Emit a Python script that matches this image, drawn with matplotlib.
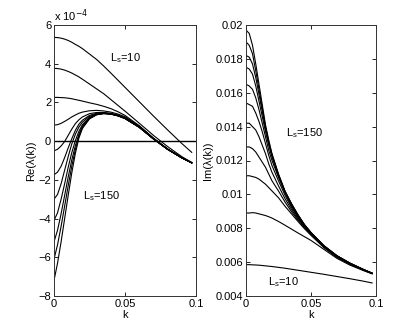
import numpy as np
import matplotlib
matplotlib.use("Agg")
import matplotlib.pyplot as plt

# common k grid
k = [0, 0.0025, 0.005, 0.0075, 0.01, 0.0125, 0.015, 0.0175, 0.02, 0.025,
     0.03, 0.035, 0.04, 0.045, 0.05, 0.06, 0.07, 0.08, 0.09, 0.097]

# Re(lambda(k)) in units of 1e-4, from Ls=10 (top) to Ls=150 (bottom)
re_ls10 = [5.36, 5.35, 5.32, 5.27, 5.20, 5.11, 5.00, 4.90, 4.78, 4.50, 4.22, 3.88, 3.52, 3.15, 2.78, 2.04, 1.30, 0.58, -0.12, -0.58]
re_c2 = [3.76, 3.75, 3.72, 3.67, 3.60, 3.52, 3.42, 3.32, 3.20, 2.95, 2.70, 2.45, 2.15, 1.85, 1.55, 0.93, 0.30, -0.28, -0.80, -1.10]
re_c3 = [2.26, 2.26, 2.25, 2.24, 2.22, 2.19, 2.15, 2.11, 2.07, 1.98, 1.90, 1.80, 1.68, 1.52, 1.33, 0.80, 0.16, -0.40, -0.86, -1.12]
re_c4 = [0.83, 0.85, 0.92, 1.02, 1.13, 1.25, 1.35, 1.44, 1.50, 1.57, 1.59, 1.56, 1.50, 1.40, 1.26, 0.78, 0.15, -0.41, -0.86, -1.12]
re_c5 = [-0.50, -0.42, -0.25, -0.02, 0.30, 0.62, 0.90, 1.10, 1.25, 1.42, 1.48, 1.48, 1.44, 1.35, 1.21, 0.75, 0.13, -0.42, -0.86, -1.12]
re_c6 = [-1.74, -1.60, -1.30, -0.85, -0.35, 0.12, 0.55, 0.87, 1.08, 1.33, 1.44, 1.46, 1.42, 1.33, 1.19, 0.73, 0.12, -0.42, -0.86, -1.12]
re_c7 = [-3.00, -2.75, -2.20, -1.50, -0.80, -0.15, 0.35, 0.72, 0.98, 1.28, 1.41, 1.44, 1.41, 1.32, 1.18, 0.72, 0.12, -0.42, -0.86, -1.12]
re_c8 = [-4.10, -3.70, -3.00, -2.20, -1.35, -0.60, 0.02, 0.50, 0.85, 1.23, 1.39, 1.44, 1.40, 1.31, 1.17, 0.72, 0.12, -0.42, -0.86, -1.12]
re_c9 = [-5.20, -4.60, -3.75, -2.80, -1.85, -0.98, -0.25, 0.35, 0.78, 1.20, 1.38, 1.43, 1.40, 1.31, 1.17, 0.72, 0.12, -0.42, -0.86, -1.12]
re_c10 = [-6.10, -5.35, -4.40, -3.35, -2.30, -1.30, -0.45, 0.25, 0.72, 1.17, 1.37, 1.43, 1.40, 1.31, 1.17, 0.72, 0.12, -0.42, -0.86, -1.12]
re_ls150 = [-7.20, -6.30, -5.20, -4.00, -2.80, -1.65, -0.65, 0.15, 0.65, 1.15, 1.36, 1.42, 1.40, 1.31, 1.17, 0.72, 0.12, -0.42, -0.86, -1.12]
re_curves = [re_ls10, re_c2, re_c3, re_c4, re_c5, re_c6, re_c7, re_c8, re_c9, re_c10, re_ls150]

# Im(lambda(k)), from Ls=10 (bottom) to Ls=150 (top)
im_ls10 = [0.00585, 0.00585, 0.00584, 0.00583, 0.00582, 0.00580, 0.00578, 0.00576, 0.00574, 0.00569, 0.00564, 0.00558, 0.00552, 0.00546, 0.00540, 0.00528, 0.00515, 0.00502, 0.00488, 0.00477]
im_c2 = [0.0089, 0.0089, 0.00892, 0.0089, 0.00885, 0.0088, 0.00875, 0.00868, 0.0086, 0.0084, 0.00818, 0.00795, 0.00772, 0.0075, 0.00728, 0.00675, 0.00622, 0.00582, 0.00551, 0.00531]
im_c3 = [0.0111, 0.0111, 0.01105, 0.0110, 0.0109, 0.01075, 0.0106, 0.0104, 0.0102, 0.0098, 0.0093, 0.00885, 0.00840, 0.00797, 0.00758, 0.00685, 0.00628, 0.00588, 0.00554, 0.00532]
im_c4 = [0.0128, 0.0128, 0.0127, 0.0125, 0.0122, 0.0119, 0.0116, 0.0112, 0.0108, 0.0102, 0.00955, 0.00898, 0.00848, 0.00803, 0.00763, 0.00688, 0.00630, 0.00589, 0.00555, 0.00533]
im_c5 = [0.0142, 0.0142, 0.0140, 0.0138, 0.0134, 0.0129, 0.0124, 0.0118, 0.0113, 0.0105, 0.00975, 0.00910, 0.00856, 0.00808, 0.00767, 0.00690, 0.00632, 0.00590, 0.00556, 0.00533]
im_c6 = [0.0154, 0.0153, 0.0152, 0.0148, 0.0143, 0.0137, 0.0130, 0.0123, 0.0117, 0.0108, 0.00995, 0.00922, 0.00863, 0.00812, 0.00769, 0.00692, 0.00634, 0.00591, 0.00556, 0.00534]
im_c7 = [0.0165, 0.0164, 0.0162, 0.0157, 0.0150, 0.0142, 0.0134, 0.0126, 0.0120, 0.0110, 0.0101, 0.00932, 0.00869, 0.00815, 0.00771, 0.00694, 0.00635, 0.00592, 0.00557, 0.00534]
im_c8 = [0.0175, 0.0174, 0.0171, 0.0164, 0.0155, 0.0146, 0.0137, 0.0129, 0.0122, 0.01108, 0.01013, 0.00938, 0.00873, 0.00818, 0.00772, 0.00695, 0.00636, 0.00593, 0.00557, 0.00534]
im_c9 = [0.0182, 0.0181, 0.0177, 0.0169, 0.0159, 0.0149, 0.0139, 0.0130, 0.0123, 0.01113, 0.01016, 0.00942, 0.00876, 0.00819, 0.00773, 0.00696, 0.00637, 0.00593, 0.00557, 0.00535]
im_c10 = [0.0190, 0.0188, 0.0183, 0.0173, 0.0162, 0.0151, 0.0140, 0.0131, 0.01235, 0.01117, 0.01018, 0.00944, 0.00878, 0.00820, 0.00774, 0.00696, 0.00637, 0.00594, 0.00558, 0.00535]
im_ls150 = [0.0197, 0.0195, 0.0188, 0.0177, 0.0165, 0.0153, 0.0141, 0.0132, 0.0124, 0.0112, 0.0102, 0.00945, 0.0088, 0.00822, 0.00775, 0.00697, 0.00638, 0.00594, 0.00558, 0.00535]
im_curves = [im_ls10, im_c2, im_c3, im_c4, im_c5, im_c6, im_c7, im_c8, im_c9, im_c10, im_ls150]

re_yticks = [-8, -6, -4, -2, 0, 2, 4, 6]
im_yticks = [0.004, 0.006, 0.008, 0.01, 0.012, 0.014, 0.016, 0.018, 0.02]
im_yticklabels = ["0.004", "0.006", "0.008", "0.01", "0.012", "0.014", "0.016", "0.018", "0.02"]
xticks = [0, 0.05, 0.1]
xticklabels = ["0", "0.05", "0.1"]

FS = 8
plt.rcParams['font.family'] = ['Liberation Sans', 'DejaVu Sans']
fig = plt.figure(figsize=(4.15, 3.33), dpi=100)
ax1 = fig.add_axes([54/415, 37/333, 142/415, 271/333])
ax2 = fig.add_axes([246/415, 37/333, 130/415, 271/333])

for ax in (ax1, ax2):
    ax.tick_params(direction='in', top=True, right=True, labelsize=FS, length=3, width=0.6, pad=2)
    for s in ax.spines.values():
        s.set_linewidth(0.7)
        s.set_color('#333333')
    ax.set_xlim(0, 0.1)
    ax.set_xticks(xticks)
    ax.set_xticklabels(xticklabels)
    ax.set_xlabel('k', fontsize=FS, labelpad=1)

for c in re_curves:
    ax1.plot(k, c, color='black', lw=0.8)
ax1.axhline(0, color='black', lw=1.0)
ax1.set_ylim(-8, 6)
ax1.set_yticks(re_yticks)
ax1.set_ylabel('Re(λ(k))', fontsize=FS, labelpad=2)
ax1.text(0.0, 1.005, 'x 10$^{-4}$', transform=ax1.transAxes, fontsize=FS, ha='left', va='bottom')
ax1.text(0.0395, 4.3, 'L$_\\mathregular{s}$=10', fontsize=FS, ha='left', va='center')
ax1.text(0.0205, -2.85, 'L$_\\mathregular{s}$=150', fontsize=FS, ha='left', va='center')

for c in im_curves:
    ax2.plot(k, c, color='black', lw=0.8)
ax2.set_ylim(0.004, 0.02)
ax2.set_yticks(im_yticks)
ax2.set_yticklabels(im_yticklabels)
ax2.set_ylabel('Im(λ(k))', fontsize=FS, labelpad=2)
ax2.text(0.031, 0.0136, 'L$_\\mathregular{s}$=150', fontsize=FS, ha='left', va='center')
ax2.text(0.0167, 0.0048, 'L$_\\mathregular{s}$=10', fontsize=FS, ha='left', va='center')

fig.savefig('out.png', dpi=100)
